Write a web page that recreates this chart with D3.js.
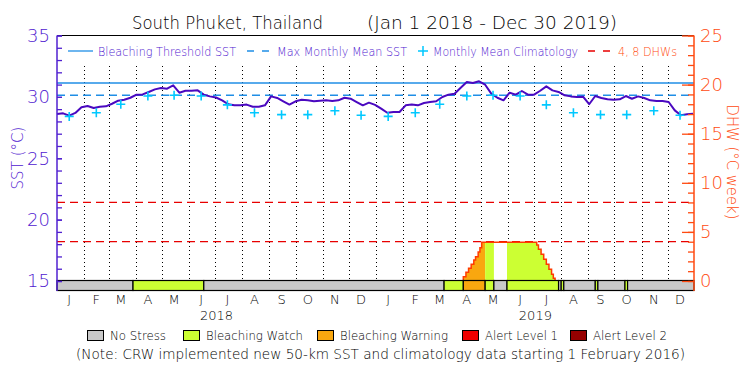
<!DOCTYPE html>
<html>
<head>
<meta charset="utf-8">
<script src="https://cdn.jsdelivr.net/npm/d3@7"></script>
<style>
  html, body { margin: 0; padding: 0; background: #fff; }
  svg { display: block; }
  text { font-family: "DejaVu Sans", "Liberation Sans", Arial, sans-serif; font-weight: 200; }
</style>
</head>
<body>
<svg id="chart" width="750" height="375"></svg>
<script>
// ---------------- DATA ----------------
const titleLeft = "South Phuket, Thailand";
const titleRight = "(Jan 1 2018 - Dec 30 2019)";

// weekly SST samples starting 2018-01-01 (°C)
const sstStart = "2018-01-01";
const sstValues = [
  28.60, 28.66, 28.47, 28.69, 29.15, 29.26, 29.09, 29.20, 29.23, 29.44,
  29.69, 29.77, 29.93, 30.18, 30.20, 30.40, 30.61, 30.72, 30.67, 30.94,
  30.34, 30.50, 30.50, 30.53, 30.18, 30.04, 29.95, 29.72, 29.40, 29.31,
  29.31, 29.37, 29.20, 29.20, 29.31, 30.04, 29.91, 29.64, 29.37, 29.64,
  29.77, 29.72, 29.64, 29.69, 29.72, 29.66, 29.72, 29.93, 29.85, 29.58,
  29.31, 29.53, 29.35, 29.04, 28.71, 28.77, 28.77, 29.31, 29.37, 29.31,
  29.50, 29.58, 29.64, 29.99, 30.18, 30.26, 30.75, 31.21, 31.13, 31.27,
  30.99, 30.26, 29.93, 29.72, 30.34, 30.18, 30.48, 30.18, 30.18, 30.50,
  30.86, 30.53, 30.40, 30.13, 30.04, 29.99, 30.02, 29.40, 30.07, 29.91,
  29.80, 29.77, 29.80, 30.07, 29.85, 30.04, 29.91, 29.72, 29.66, 29.66,
  29.58, 28.90, 28.50, 28.58, 28.63
];

const mmm = 30.13;                 // Max Monthly Mean SST
const bleachingThreshold = 31.13;  // MMM + 1

// Monthly mean climatology (Jan..Dec), plotted mid-month each year
const climYears = [2018, 2019];
const climValues = [28.41, 28.71, 29.40, 30.07, 30.13, 30.07, 29.35, 28.71, 28.55, 28.55, 28.87, 28.50];

// Degree Heating Weeks (step series)
const dhwDates = [
  "2019-04-10","2019-04-11","2019-04-14","2019-04-17","2019-04-20","2019-04-23",
  "2019-04-25","2019-04-28","2019-04-30","2019-05-02","2019-07-04","2019-07-06",
  "2019-07-09","2019-07-12","2019-07-15","2019-07-18","2019-07-21","2019-07-23","2019-07-25"
];
const dhwValues = [0, 0.44, 0.90, 1.29, 1.70, 2.14, 2.47, 2.95, 3.39, 3.94, 3.67, 3.23, 2.72, 2.21, 1.70, 1.19, 0.68, 0.27, 0];
const dhwRefLines = [4, 8];

// Stress level segments (0 none, 1 watch, 2 warning, 3 alert1, 4 alert2)
const stressStart = ["2018-01-01","2018-03-29","2018-06-18","2019-03-20","2019-04-11","2019-05-06","2019-05-16","2019-05-31","2019-07-29","2019-08-01","2019-08-04","2019-09-09","2019-09-12","2019-10-13","2019-10-16"];
const stressEnd   = ["2018-03-29","2018-06-18","2019-03-20","2019-04-11","2019-05-06","2019-05-16","2019-05-31","2019-07-29","2019-08-01","2019-08-04","2019-09-09","2019-09-12","2019-10-13","2019-10-16","2019-12-31"];
const stressLevel = [0,1,0,1,2,1,0,1,0,1,0,1,0,1,0];

const stressNames  = ["No Stress","Bleaching Watch","Bleaching Warning","Alert Level 1","Alert Level 2"];
const stressColors = ["#c8c8c8","#ccff33","#f9a70f","#f00000","#960000"];

const monthLetters = ["J","F","M","A","M","J","J","A","S","O","N","D"];
const sstTicksMajor = [15, 20, 25, 30, 35];
const dhwTicksMajor = [0, 5, 10, 15, 20, 25];
const noteText = "(Note: CRW implemented new 50-km SST and climatology data starting 1 February 2016)";

// ---------------- STYLE ----------------
const C = {
  purple: "#5020d0", sst: "#4a08c0", thresh: "#1f8ee6", clim: "#00c8ff",
  dhwAxis: "#ff4a10", dhwLine: "#ff3a00", redDash: "#e80000"
};
const L = 57, R = 694, T = 35.5, B = 281;

const parse = d3.utcParse("%Y-%m-%d");
const svg = d3.select("#chart");

const x = d3.scaleUtc().domain([Date.UTC(2018,0,1), Date.UTC(2019,11,31)]).range([L, R]);
const ySST = d3.scaleLinear().domain([15, 35]).range([B, T]);
const yDHW = d3.scaleLinear().domain([0, 25]).range([B, T]);

const t0 = parse(sstStart);
const sstData = sstValues.map((v, i) => ({ d: d3.utcDay.offset(t0, 7 * i), v }));
const dhwData = dhwDates.map((s, i) => ({ d: parse(s), v: dhwValues[i] }));
const stress = stressStart.map((s, i) => ({ s: parse(s), e: parse(stressEnd[i]), l: stressLevel[i] }));

// ---------------- TITLE ----------------
svg.append("text").attr("x", 132).attr("y", 29).attr("font-size", 18)
  .attr("textLength", 191).attr("lengthAdjust", "spacingAndGlyphs").text(titleLeft);
svg.append("text").attr("x", 367).attr("y", 29).attr("font-size", 18)
  .attr("textLength", 250).attr("lengthAdjust", "spacingAndGlyphs").text(titleRight);

// ---------------- DOTTED MONTH LINES ----------------
const monthStarts = d3.utcMonth.range(Date.UTC(2018,1,1), Date.UTC(2020,0,1));
svg.append("g").selectAll("line").data(monthStarts).join("line")
  .attr("x1", d => Math.round(x(d)) + 0.5).attr("x2", d => Math.round(x(d)) + 0.5)
  .attr("y1", 66).attr("y2", B)
  .attr("stroke", "#000").attr("stroke-width", 1).attr("stroke-dasharray", "1,3");

// ---------------- REFERENCE LINES ----------------
svg.append("line").attr("x1", L).attr("x2", R)
  .attr("y1", ySST(bleachingThreshold)).attr("y2", ySST(bleachingThreshold))
  .attr("stroke", C.thresh).attr("stroke-width", 1.5);
svg.append("line").attr("x1", L).attr("x2", R)
  .attr("y1", ySST(mmm)).attr("y2", ySST(mmm))
  .attr("stroke", C.thresh).attr("stroke-width", 1.5).attr("stroke-dasharray", "8,5");
svg.append("g").selectAll("line").data(dhwRefLines).join("line")
  .attr("x1", L).attr("x2", R).attr("y1", d => yDHW(d)).attr("y2", d => yDHW(d))
  .attr("stroke", C.redDash).attr("stroke-width", 1.3).attr("stroke-dasharray", "8,5");

// ---------------- DHW AREA ----------------
const dhwArea = d3.area().curve(d3.curveStepAfter)
  .x(d => x(d.d)).y0(yDHW(0)).y1(d => yDHW(d.v));
const defs = svg.append("defs");
stress.forEach((s, i) => {
  if (s.l === 0) return;
  const id = "clipS" + i;
  defs.append("clipPath").attr("id", id).append("rect")
    .attr("x", x(s.s)).attr("width", x(s.e) - x(s.s)).attr("y", T).attr("height", B - T);
  svg.append("path").datum(dhwData).attr("d", dhwArea)
    .attr("fill", stressColors[s.l]).attr("clip-path", `url(#${id})`);
});
const dhwLine = d3.line().curve(d3.curveStepAfter).x(d => x(d.d)).y(d => yDHW(d.v));
svg.append("path").datum(dhwData).attr("d", dhwLine)
  .attr("fill", "none").attr("stroke", C.dhwLine).attr("stroke-width", 1.5);

// ---------------- SST LINE ----------------
svg.append("path").datum(sstData)
  .attr("d", d3.line().x(d => x(d.d)).y(d => ySST(d.v)))
  .attr("fill", "none").attr("stroke", C.sst).attr("stroke-width", 2).attr("stroke-linejoin", "round");

// ---------------- CLIMATOLOGY CROSSES ----------------
const climData = [];
climYears.forEach(yr => climValues.forEach((v, m) => climData.push({ d: new Date(Date.UTC(yr, m, 15)), v })));
svg.append("g").selectAll("path").data(climData).join("path")
  .attr("d", d => { const cx = x(d.d), cy = ySST(d.v);
    return `M${cx-4.5},${cy}H${cx+4.5}M${cx},${cy-4.5}V${cy+4.5}`; })
  .attr("stroke", C.clim).attr("stroke-width", 1.6).attr("fill", "none");

// ---------------- STRESS BAR ----------------
svg.append("g").selectAll("rect").data(stress).join("rect")
  .attr("x", d => x(d.s)).attr("width", d => x(d.e) - x(d.s))
  .attr("y", B - 0.5).attr("height", 10)
  .attr("fill", d => stressColors[d.l]).attr("stroke", "#000").attr("stroke-width", 1.2);

// ---------------- FRAME ----------------
svg.append("line").attr("x1", L).attr("x2", R).attr("y1", T).attr("y2", T).attr("stroke", "#000").attr("stroke-width", 1.2);

// Left axis (SST)
const gL = svg.append("g").attr("transform", `translate(${L},0)`);
gL.call(d3.axisLeft(ySST).tickValues(d3.range(15, 36)).tickSize(-5).tickFormat(""));
gL.append("g").call(d3.axisLeft(ySST).tickValues(sstTicksMajor).tickSize(-5).tickPadding(7).tickFormat(d3.format("d")));
gL.selectAll(".domain").remove();
gL.selectAll("line").attr("stroke", C.purple).attr("stroke-width", 1.3);
gL.selectAll("text").attr("fill", C.purple).attr("font-size", 18)
  .attr("font-family", "DejaVu Sans, Liberation Sans, Arial, sans-serif").attr("font-weight", 200);
gL.append("line").attr("x1", 0).attr("x2", 0).attr("y1", T).attr("y2", B + 10)
  .attr("stroke", C.purple).attr("stroke-width", 1.5);

// Right axis (DHW)
const gR = svg.append("g").attr("transform", `translate(${R},0)`);
gR.call(d3.axisRight(yDHW).tickValues(d3.range(0, 26)).tickSize(-6).tickFormat(""));
gR.append("g").call(d3.axisRight(yDHW).tickValues(dhwTicksMajor).tickSize(-12).tickPadding(6).tickFormat(d3.format("d")));
gR.selectAll(".domain").remove();
gR.selectAll("line").attr("stroke", C.dhwAxis).attr("stroke-width", 1.3);
gR.selectAll("text").attr("fill", C.dhwAxis).attr("font-size", 18)
  .attr("font-family", "DejaVu Sans, Liberation Sans, Arial, sans-serif").attr("font-weight", 200);
gR.append("line").attr("x1", 0).attr("x2", 0).attr("y1", T).attr("y2", B + 10)
  .attr("stroke", C.dhwAxis).attr("stroke-width", 1.5);

// Axis titles
svg.append("text").attr("transform", "translate(23,158) rotate(-90)")
  .attr("text-anchor", "middle").attr("font-size", 16).attr("fill", C.purple)
  .attr("textLength", 63).attr("lengthAdjust", "spacingAndGlyphs").text("SST (°C)");
svg.append("text").attr("transform", "translate(727,162) rotate(90)")
  .attr("text-anchor", "middle").attr("font-size", 16).attr("fill", C.dhwAxis)
  .attr("textLength", 115).attr("lengthAdjust", "spacingAndGlyphs").text("DHW (°C week)");

// Month & year labels
const monthMid = [];
[2018, 2019].forEach(yr => monthLetters.forEach((m, i) => monthMid.push({ d: new Date(Date.UTC(yr, i, 15)), m })));
svg.append("g").selectAll("text").data(monthMid).join("text")
  .attr("x", d => x(d.d)).attr("y", 304).attr("text-anchor", "middle")
  .attr("font-size", 13).attr("fill", "#000").text(d => d.m);
svg.append("g").selectAll("text").data([2018, 2019]).join("text")
  .attr("x", yr => (x(new Date(Date.UTC(yr,0,1))) + x(new Date(Date.UTC(yr+1,0,1)))) / 2)
  .attr("y", 320).attr("text-anchor", "middle").attr("font-size", 13).attr("fill", "#000")
  .text(d => d);

// ---------------- TOP LEGEND ----------------
const ly = 51;
svg.append("line").attr("x1", 68).attr("x2", 93).attr("y1", ly).attr("y2", ly).attr("stroke", C.thresh).attr("stroke-width", 1.3);
svg.append("text").attr("x", 98).attr("y", ly + 4.5).attr("font-size", 12.5).attr("fill", C.purple)
  .attr("textLength", 138).attr("lengthAdjust", "spacingAndGlyphs").text("Bleaching Threshold SST");
svg.append("line").attr("x1", 247).attr("x2", 269).attr("y1", ly).attr("y2", ly).attr("stroke", C.thresh)
  .attr("stroke-width", 1.3).attr("stroke-dasharray", "7,8");
svg.append("text").attr("x", 277).attr("y", ly + 4.5).attr("font-size", 12.5).attr("fill", C.purple)
  .attr("textLength", 130).attr("lengthAdjust", "spacingAndGlyphs").text("Max Monthly Mean SST");
svg.append("path").attr("d", `M${418},${ly}H${428}M${423},${ly-5}V${ly+5}`).attr("stroke", C.clim).attr("stroke-width", 1.5);
svg.append("text").attr("x", 433).attr("y", ly + 4.5).attr("font-size", 12.5).attr("fill", C.purple)
  .attr("textLength", 145).attr("lengthAdjust", "spacingAndGlyphs").text("Monthly Mean Climatology");
svg.append("line").attr("x1", 588).attr("x2", 612).attr("y1", ly).attr("y2", ly).attr("stroke", C.redDash)
  .attr("stroke-width", 1.3).attr("stroke-dasharray", "7,8");
svg.append("text").attr("x", 618).attr("y", ly + 4.5).attr("font-size", 12.5).attr("fill", C.dhwAxis)
  .attr("textLength", 59).attr("lengthAdjust", "spacingAndGlyphs").text("4, 8 DHWs");

// ---------------- BOTTOM LEGEND ----------------
const boxX = [87, 183, 317, 462, 570];
const textLen = [56, 97, 108, 73, 74];
const gLeg = svg.append("g");
stressNames.forEach((n, i) => {
  gLeg.append("rect").attr("x", boxX[i] + 0.5).attr("y", 330.5).attr("width", 16).attr("height", 10)
    .attr("fill", stressColors[i]).attr("stroke", "#000").attr("stroke-width", 1);
  gLeg.append("text").attr("x", boxX[i] + 23).attr("y", 340).attr("font-size", 13)
    .attr("textLength", textLen[i]).attr("lengthAdjust", "spacingAndGlyphs").text(n);
});
svg.append("text").attr("x", 76).attr("y", 359).attr("font-size", 13.5)
  .attr("textLength", 609).attr("lengthAdjust", "spacingAndGlyphs").text(noteText);
</script>
</body>
</html>
